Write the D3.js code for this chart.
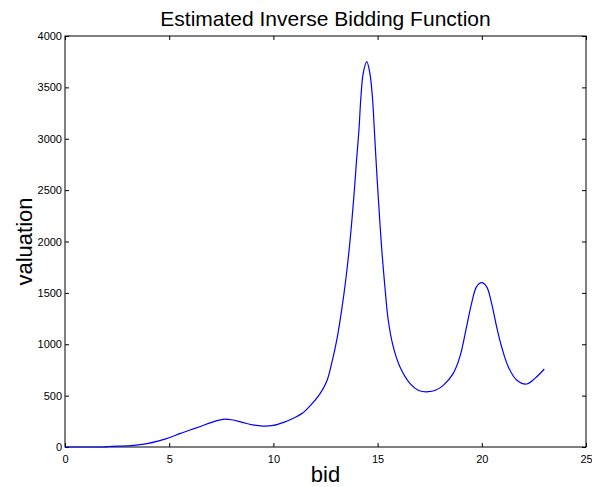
<!DOCTYPE html>
<html>
<head>
<meta charset="utf-8">
<script src="https://cdn.jsdelivr.net/npm/d3@7/dist/d3.min.js"></script>
<style>
  body { margin: 0; background: #fff; }
  svg { display: block; font-family: "Liberation Sans", Arial, sans-serif; }
  .axis text { font-size: 11px; fill: #000; }
  .axis path, .axis line { stroke: #000; }
</style>
</head>
<body>
<svg id="chart"></svg>
<script>
// bid values (x)
var bids = [0, 1, 2, 2.1, 3, 3.3, 4, 4.5, 5, 5.5, 6, 6.5, 7, 7.4, 7.7, 8, 8.5, 9, 9.5, 10, 10.5,
  10.96, 11.4, 11.76, 12.24, 12.56, 12.79, 13.04, 13.28, 13.48, 13.68, 13.87, 13.99, 14.11, 14.2, 14.31, 14.48,
  14.63, 14.75, 14.84, 14.92, 15.0, 15.19, 15.35, 15.51, 15.75, 16.07, 16.55, 17.0, 17.43, 17.8, 18.15, 18.63,
  18.95, 19.27, 19.51, 19.75, 19.99, 20.23, 20.47, 20.71, 20.95, 21.27, 21.67, 22.15, 22.55, 23.0];
// valuation estimates
var valuations = [0, 0, 2, 5, 10, 15, 35, 60, 90, 130, 165, 200, 237, 262, 272, 265, 240, 215, 204, 210, 240,
  279, 330, 400, 520, 640, 810, 1040, 1340, 1640, 2015, 2460, 2790, 3102, 3409, 3637, 3750,
  3637, 3409, 3102, 2810, 2534, 1949, 1560, 1236, 976, 781, 620, 548, 538, 555, 600, 717,
  879, 1171, 1398, 1560, 1599, 1560, 1398, 1171, 976, 781, 652, 613, 668, 759];
var xTicks = [0, 5, 10, 15, 20, 25];
var yTicks = [0, 500, 1000, 1500, 2000, 2500, 3000, 3500, 4000];

var size = { width: 592, height: 487, margin: { top: 36, right: 6, bottom: 40, left: 65 } };
var margin = size.margin;
var width = size.width - margin.left - margin.right;
var height = size.height - margin.top - margin.bottom;

var data = bids.map((b, i) => ({ bid: b, val: valuations[i] }));

var x = d3.scaleLinear().domain([0, 25]).range([0, width]);
var y = d3.scaleLinear().domain([0, 4000]).range([height, 0]);

var svg = d3.select('#chart')
  .attr('width', size.width)
  .attr('height', size.height);

var chart = svg.append('g')
  .attr('transform', `translate(${ margin.left }, ${ margin.top })`);

// box
chart.append('rect')
  .attr('width', width).attr('height', height)
  .attr('fill', 'none').attr('stroke', '#000');

chart.append('g')
  .attr('class', 'axis x')
  .attr('transform', `translate(0, ${ height })`)
  .call(d3.axisBottom(x).tickValues(xTicks).tickSize(-4).tickPadding(8).tickSizeOuter(0).tickFormat(d3.format('d')));

chart.append('g')
  .attr('class', 'axis x2')
  .call(d3.axisTop(x).tickValues(xTicks).tickSize(-4).tickFormat('').tickSizeOuter(0));

chart.append('g')
  .attr('class', 'axis y')
  .call(d3.axisLeft(y).tickValues(yTicks).tickSize(-4).tickPadding(3).tickSizeOuter(0).tickFormat(d3.format('d')));

chart.append('g')
  .attr('class', 'axis y2')
  .attr('transform', `translate(${ width }, 0)`)
  .call(d3.axisRight(y).tickValues(yTicks).tickSize(-4).tickFormat('').tickSizeOuter(0));

chart.selectAll('.axis .domain').remove();

var line = d3.line()
  .x(d => x(d.bid))
  .y(d => y(d.val))
  .curve(d3.curveCatmullRom.alpha(0.5));

chart.append('path')
  .datum(data)
  .attr('fill', 'none')
  .attr('stroke', '#0000ff')
  .attr('stroke-width', 1.2)
  .attr('d', line);

svg.append('text')
  .attr('x', margin.left + width / 2)
  .attr('y', 26)
  .attr('text-anchor', 'middle')
  .style('font-size', '21px')
  .text('Estimated Inverse Bidding Function');

svg.append('text')
  .attr('x', margin.left + width / 2)
  .attr('y', 482)
  .attr('text-anchor', 'middle')
  .style('font-size', '22px')
  .text('bid');

svg.append('text')
  .attr('transform', `translate(32, ${ margin.top + height / 2 }) rotate(-90)`)
  .attr('text-anchor', 'middle')
  .style('font-size', '22px')
  .text('valuation');
</script>
</body>
</html>
